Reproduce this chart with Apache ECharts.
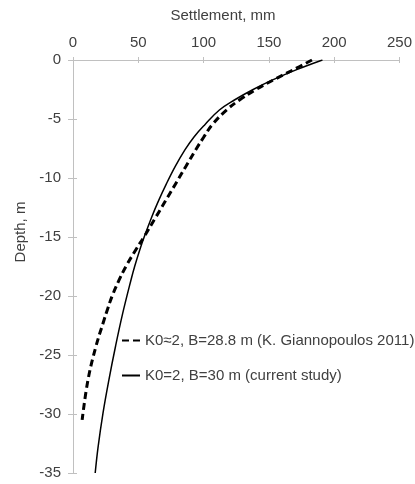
<!DOCTYPE html>
<html>
<head>
<meta charset="utf-8">
<script src="https://cdn.jsdelivr.net/npm/echarts@6/dist/echarts.min.js"></script>
<style>
  html, body { margin: 0; padding: 0; background: #fff; }
  #chart { width: 415px; height: 484px; }
</style>
</head>
<body>
<div id="chart"></div>
<script>
  // Giannopoulos 2011 curve (dashed)
  var refDepth = [0, -0.84, -1.69, -2.54, -3.39, -4.24, -5.5, -6.5, -7.6, -9, -10.5, -12, -13.3, -15, -16.1, -17.5, -18.6, -20, -21.2, -22.2, -24.3, -27.1, -30.5];
  var refSettle = [183, 168.5, 153.5, 139.5, 127.5, 117.5, 106.5, 100.3, 94, 86.5, 78.5, 70.5, 63.5, 54.3, 48, 40.5, 35.5, 30, 26.2, 23.3, 17.5, 11.5, 7];
  // current study curve (solid)
  var curDepth = [0, -0.84, -1.69, -2.54, -3.39, -4.24, -5.5, -6.5, -7.6, -9, -10.5, -12, -13.3, -15, -16.1, -17.5, -18.6, -21.5, -24.3, -27.1, -29.9, -32.8, -35];
  var curSettle = [191, 170.8, 152.9, 137.2, 123.6, 112.1, 100.8, 92.8, 85.8, 78.4, 71.5, 65.2, 60.3, 54.5, 51.1, 47.2, 44.5, 38, 32.5, 27.5, 23, 19.2, 17];
  var seriesNames = ["K0≈2, B=28.8 m (K. Giannopoulos 2011)", "K0=2, B=30 m (current study)"];

  function pairs(xs, ys) {
    return xs.map(function(x, i) { return [x, ys[i]]; });
  }

  var axisColor = "#c0c0c0",
      textColor = "#404040",
      font = "Liberation Sans, Arial, sans-serif";

  var chart = echarts.init(document.getElementById("chart"));
  var xBase = {
    type: "value", min: 0, max: 250, interval: 50, position: "top",
    splitLine: { show: false }
  };
  var yBase = {
    type: "value", min: -35, max: 0, interval: 5, position: "left",
    splitLine: { show: false }
  };

  chart.setOption({
    animation: false,
    grid: { left: 73, right: 12, top: 60, bottom: 11 },
    xAxis: [
      Object.assign({}, xBase, {
        axisLine: { onZero: false, lineStyle: { color: axisColor, width: 1 } },
        axisTick: { length: 3, lineStyle: { color: axisColor } },
        axisLabel: { color: textColor, fontSize: 15, fontFamily: font, margin: 10 }
      }),
      Object.assign({}, xBase, {
        axisLine: { show: false },
        axisTick: { inside: true, length: 3, lineStyle: { color: axisColor } },
        axisLabel: { show: false }
      })
    ],
    yAxis: [
      Object.assign({}, yBase, {
        axisLine: { onZero: false, lineStyle: { color: axisColor, width: 1 } },
        axisTick: { length: 5, lineStyle: { color: axisColor } },
        axisLabel: { color: textColor, fontSize: 15, fontFamily: font, margin: 12 }
      }),
      Object.assign({}, yBase, {
        axisLine: { show: false },
        axisTick: { inside: true, length: 4, lineStyle: { color: axisColor } },
        axisLabel: { show: false }
      })
    ],
    legend: {
      orient: "vertical",
      left: 116,
      top: 328,
      itemWidth: 18,
      itemHeight: 14,
      itemGap: 20,
      itemStyle: { opacity: 0, borderWidth: 0 },
      textStyle: { color: textColor, fontSize: 15, fontFamily: font },
      data: seriesNames
    },
    graphic: [
      {
        type: "text", x: 223, y: 16,
        style: { text: "Settlement, mm", fill: textColor, font: "15px " + font, align: "center", verticalAlign: "middle" }
      },
      {
        type: "text", x: 21, y: 232, rotation: Math.PI / 2,
        style: { text: "Depth, m", fill: textColor, font: "15px " + font, align: "center", verticalAlign: "middle" }
      }
    ],
    series: [
      {
        name: seriesNames[0],
        type: "line",
        showSymbol: false,
        symbol: "none",
        smooth: 0.4,
        lineStyle: { color: "#000", width: 3, type: [7, 4] },
        itemStyle: { color: "#000" },
        data: pairs(refSettle, refDepth)
      },
      {
        name: seriesNames[1],
        type: "line",
        showSymbol: false,
        symbol: "none",
        smooth: 0.4,
        lineStyle: { color: "#000", width: 1.5 },
        itemStyle: { color: "#000" },
        data: pairs(curSettle, curDepth)
      }
    ]
  });
</script>
</body>
</html>
